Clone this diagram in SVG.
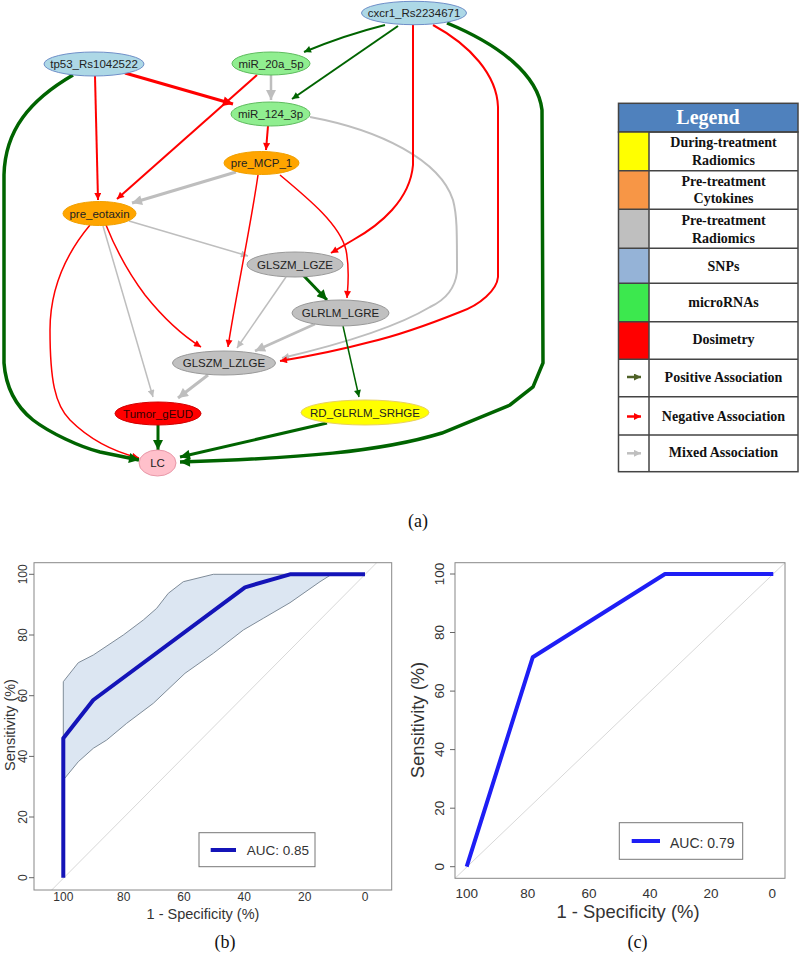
<svg xmlns="http://www.w3.org/2000/svg" width="800" height="957" viewBox="0 0 800 957">
<style>
.nt{font-family:"Liberation Sans",Arial,sans-serif;font-size:11.5px;fill:#222;text-anchor:middle}
.e{fill:none}
.g{stroke:#006400}
.r{stroke:#FF0000}
.y{stroke:#BEBEBE}
.lt{font-family:"Liberation Serif","Times New Roman",serif;font-weight:bold;font-size:14px;fill:#111;text-anchor:middle}
.cap{font-family:"Liberation Serif","Times New Roman",serif;font-size:18px;fill:#111;text-anchor:middle}
.ax{font-family:"Liberation Sans",Arial,sans-serif;fill:#333;text-anchor:middle}
.cell{fill:none;stroke:#444;stroke-width:1.5}
</style>
<defs>
<marker id="gS" viewBox="0 0 10 10" refX="10" refY="5" markerWidth="8" markerHeight="7" markerUnits="userSpaceOnUse" orient="auto"><path d="M0,0 L10,5 L0,10 z" fill="#006400"/></marker>
<marker id="gL" viewBox="0 0 10 10" refX="10" refY="5" markerWidth="11" markerHeight="10" markerUnits="userSpaceOnUse" orient="auto"><path d="M0,0 L10,5 L0,10 z" fill="#006400"/></marker>
<marker id="rS" viewBox="0 0 10 10" refX="10" refY="5" markerWidth="8" markerHeight="7" markerUnits="userSpaceOnUse" orient="auto"><path d="M0,0 L10,5 L0,10 z" fill="#FF0000"/></marker>
<marker id="rL" viewBox="0 0 10 10" refX="10" refY="5" markerWidth="11" markerHeight="10" markerUnits="userSpaceOnUse" orient="auto"><path d="M0,0 L10,5 L0,10 z" fill="#FF0000"/></marker>
<marker id="yS" viewBox="0 0 10 10" refX="10" refY="5" markerWidth="8" markerHeight="7" markerUnits="userSpaceOnUse" orient="auto"><path d="M0,0 L10,5 L0,10 z" fill="#BEBEBE"/></marker>
<marker id="yL" viewBox="0 0 10 10" refX="10" refY="5" markerWidth="11" markerHeight="10" markerUnits="userSpaceOnUse" orient="auto"><path d="M0,0 L10,5 L0,10 z" fill="#BEBEBE"/></marker>
<marker id="lp" viewBox="0 0 10 10" refX="10" refY="5" markerWidth="7" markerHeight="7" markerUnits="userSpaceOnUse" orient="auto"><path d="M0,0 L10,5 L0,10 z" fill="#4F6228"/></marker>
<marker id="lr" viewBox="0 0 10 10" refX="10" refY="5" markerWidth="7" markerHeight="7" markerUnits="userSpaceOnUse" orient="auto"><path d="M0,0 L10,5 L0,10 z" fill="#FF0000"/></marker>
<marker id="ly" viewBox="0 0 10 10" refX="10" refY="5" markerWidth="7" markerHeight="7" markerUnits="userSpaceOnUse" orient="auto"><path d="M0,0 L10,5 L0,10 z" fill="#BFBFBF"/></marker>
</defs>
<rect width="800" height="957" fill="#FFFFFF"/>

<g id="connectors">
<path class="e y" stroke-width="2.5" marker-end="url(#yL)" d="M271,75 L271,100"/>
<path class="e y" stroke-width="3" marker-end="url(#yL)" d="M236,172 L132,203"/>
<path class="e y" stroke-width="1.5" marker-end="url(#yS)" d="M129,221 L248,256"/>
<path class="e y" stroke-width="1.5" marker-end="url(#yS)" d="M103,226 L153,397"/>
<path class="e y" stroke-width="1.5" marker-end="url(#yS)" d="M286,277 L237,348"/>
<path class="e y" stroke-width="2.5" marker-end="url(#yL)" d="M315,324 L255,351"/>
<path class="e y" stroke-width="2" marker-end="url(#yS)" d="M310,117 C380,130 440,160 453,200 C457,215 457,230 457,272 C455,290 445,300 430,307 C400,325 350,342 282,358"/>
<path class="e y" stroke-width="3" marker-end="url(#yL)" d="M208,375 L178,398"/>

<path class="e r" stroke-width="3" marker-end="url(#rL)" d="M125,73 L233,104"/>
<path class="e r" stroke-width="2" marker-end="url(#rS)" d="M95,76 L98,200"/>
<path class="e r" stroke-width="2" marker-end="url(#rS)" d="M257,75 L117,199"/>
<path class="e r" stroke-width="2" marker-end="url(#rS)" d="M268,126 L266,150"/>
<path class="e r" stroke-width="2" marker-end="url(#rS)" d="M413,25 L413,165 C410,200 380,225 353,240 L331,253"/>
<path class="e r" stroke-width="2" marker-end="url(#rS)" d="M433,25 C470,45 497,75 498,107 L498,277 C497,290 480,305 460,312 C440,320 400,335 370,342 C340,350 310,356 280,361"/>
<path class="e r" stroke-width="1.5" marker-end="url(#rS)" d="M258,175 C250,230 235,300 228,347"/>
<path class="e r" stroke-width="1.5" marker-end="url(#rS)" d="M280,175 C310,200 340,225 346,250 C350,270 348,285 347,298"/>
<path class="e r" stroke-width="1.5" marker-end="url(#rS)" d="M106,225 C118,255 130,275 145,295 C165,320 185,337 201,347"/>
<path class="e r" stroke-width="1.5" marker-end="url(#rS)" d="M90,225 C65,255 50,290 50,330 C50,380 55,405 70,420 C90,440 115,452 139,458"/>

<path class="e g" stroke-width="2" marker-end="url(#gS)" d="M385,25 Q345,35 304,52"/>
<path class="e g" stroke-width="2" marker-end="url(#gS)" d="M398,26 L292,99"/>
<path class="e g" stroke-width="3.5" marker-end="url(#gL)" d="M447,23 C500,45 538,75 542,110 L543,363 L533,387 L510,405 L442,433 C380,452 300,458 180,462"/>
<path class="e g" stroke-width="3.5" marker-end="url(#gL)" d="M73,75 C30,100 5,130 4,175 L4,363 C6,390 18,408 33,420 C50,433 80,447 100,452 L139,460"/>
<path class="e g" stroke-width="3" marker-end="url(#gL)" d="M303,275 L327,300"/>
<path class="e g" stroke-width="1.5" marker-end="url(#gS)" d="M343,326 L359,397"/>
<path class="e g" stroke-width="3" marker-end="url(#gL)" d="M158,425 L158,450"/>
<path class="e g" stroke-width="3" marker-end="url(#gL)" d="M327,423 L180,457"/>
</g>

<g id="cxcr1_Rs2234671"><ellipse cx="414" cy="13" rx="52.5" ry="11.7" fill="#ADD8E6" stroke="#6F8FC8"/><text class="nt" x="414" y="17">cxcr1_Rs2234671</text></g>
<g id="tp53_Rs1042522"><ellipse cx="94" cy="64" rx="50" ry="12" fill="#ADD8E6" stroke="#6F8FC8"/><text class="nt" x="94" y="68">tp53_Rs1042522</text></g>
<g id="miR_20a_5p"><ellipse cx="271" cy="63.5" rx="39" ry="11.5" fill="#90EE90" stroke="#5DBB5D"/><text class="nt" x="271" y="67.5">miR_20a_5p</text></g>
<g id="miR_124_3p"><ellipse cx="270.5" cy="114" rx="39.5" ry="12" fill="#90EE90" stroke="#5DBB5D"/><text class="nt" x="270.5" y="118">miR_124_3p</text></g>
<g id="pre_MCP_1"><ellipse cx="261.5" cy="163" rx="37.5" ry="11.5" fill="#FFA500" stroke="#F0A000"/><text class="nt" x="261.5" y="167">pre_MCP_1</text></g>
<g id="pre_eotaxin"><ellipse cx="99.5" cy="213.5" rx="36.5" ry="12" fill="#FFA500" stroke="#F0A000"/><text class="nt" x="99.5" y="217.5">pre_eotaxin</text></g>
<g id="GLSZM_LGZE"><ellipse cx="295" cy="264.5" rx="48" ry="12.5" fill="#C0C0C0" stroke="#999999"/><text class="nt" x="295" y="268.5">GLSZM_LGZE</text></g>
<g id="GLRLM_LGRE"><ellipse cx="340.5" cy="313" rx="48.5" ry="13" fill="#C0C0C0" stroke="#999999"/><text class="nt" x="340.5" y="317">GLRLM_LGRE</text></g>
<g id="GLSZM_LZLGE"><ellipse cx="224" cy="363" rx="51.5" ry="12" fill="#C0C0C0" stroke="#999999"/><text class="nt" x="224" y="367">GLSZM_LZLGE</text></g>
<g id="Tumor_gEUD"><ellipse cx="158" cy="413.5" rx="43" ry="11.5" fill="#FF0000" stroke="#D00000"/><text class="nt" x="158" y="417.5" style="fill:#300">Tumor_gEUD</text></g>
<g id="RD_GLRLM_SRHGE"><ellipse cx="365" cy="412.5" rx="64" ry="12.5" fill="#FFFF00" stroke="#E8D060"/><text class="nt" x="365" y="416.5">RD_GLRLM_SRHGE</text></g>
<g id="LC"><ellipse cx="157.5" cy="463" rx="18.5" ry="13" fill="#FFC0CB" stroke="#E898A8"/><text class="nt" x="157.5" y="467">LC</text></g>

<g id="legend">
<rect x="618.5" y="103.3" width="179.5" height="28.7" fill="#4F81BD" stroke="#444" stroke-width="1.5"/>
<text x="708" y="124" style="font-family:'Liberation Serif','Times New Roman',serif;font-weight:bold;font-size:20px;fill:#FFFFFF;text-anchor:middle">Legend</text>
<rect x="618.5" y="132" width="30.5" height="38.7" fill="#FFFF00"/>
<rect x="618.5" y="170.7" width="30.5" height="38.6" fill="#F79646"/>
<rect x="618.5" y="209.3" width="30.5" height="39" fill="#BFBFBF"/>
<rect x="618.5" y="248.3" width="30.5" height="35" fill="#95B3D7"/>
<rect x="618.5" y="283.3" width="30.5" height="38.4" fill="#3CE84E"/>
<rect x="618.5" y="321.7" width="30.5" height="37.6" fill="#FF0000"/>
<rect class="cell" x="618.5" y="132" width="179.5" height="339.7"/>
<path class="cell" d="M649,132 V471.7 M618.5,170.7 H798 M618.5,209.3 H798 M618.5,248.3 H798 M618.5,283.3 H798 M618.5,321.7 H798 M618.5,359.3 H798 M618.5,396.7 H798 M618.5,435 H798"/>
<text class="lt" x="723.5" y="147">During-treatment</text>
<text class="lt" x="723.5" y="165">Radiomics</text>
<text class="lt" x="723.5" y="186">Pre-treatment</text>
<text class="lt" x="723.5" y="203">Cytokines</text>
<text class="lt" x="723.5" y="225">Pre-treatment</text>
<text class="lt" x="723.5" y="242.5">Radiomics</text>
<text class="lt" x="723.5" y="271">SNPs</text>
<text class="lt" x="723.5" y="307">microRNAs</text>
<text class="lt" x="723.5" y="344">Dosimetry</text>
<text class="lt" x="723.5" y="382">Positive Association</text>
<text class="lt" x="723.5" y="421">Negative Association</text>
<text class="lt" x="723.5" y="457">Mixed Association</text>
<path d="M627,377 L641,377" stroke="#4F6228" stroke-width="2.5" marker-end="url(#lp)"/>
<path d="M627,416.5 L641,416.5" stroke="#FF0000" stroke-width="2.5" marker-end="url(#lr)"/>
<path d="M627,453.3 L641,453.3" stroke="#BFBFBF" stroke-width="2.5" marker-end="url(#ly)"/>
</g>

<text class="cap" x="418" y="527">(a)</text>

<g id="plot_b">
<path d="M63.3,681.7 L78.3,662.7 L93.3,655 L123.3,635 L143.3,620 L156.7,608.3 L168.3,593.3 L183.3,581.7 L213.3,574.3 L331.7,574.3 L320,581.7 L290,602.7 L263.3,618.3 L243.3,630 L213.3,653.3 L185,673.3 L153.3,703.3 L126.7,723.3 L106.7,740 L93.3,748.3 L78.3,761.7 L63.3,780 Z" fill="#DCE6F2" stroke="#7F8C99" stroke-width="1"/>
<line x1="51.7" y1="890" x2="376.7" y2="562.7" stroke="#D8D8D8" stroke-width="1"/>
<rect x="34" y="562.7" width="357.7" height="327.3" fill="none" stroke="#888" stroke-width="1"/>
<path d="M63.3,877.7 L63.3,738.3 L93.3,700 L245,587.3 L290,574.3 L365,574.3" fill="none" stroke="#1414B8" stroke-width="4" stroke-linejoin="round"/>
<path d="M34,877.7 H29 M34,817 H29 M34,756.4 H29 M34,695.7 H29 M34,635 H29 M34,574.3 H29" stroke="#666" stroke-width="1"/>
<g class="ax" style="font-size:12px">
<text transform="translate(26.5,877.7) rotate(-90)">0</text>
<text transform="translate(26.5,817) rotate(-90)">20</text>
<text transform="translate(26.5,756.4) rotate(-90)">40</text>
<text transform="translate(26.5,695.7) rotate(-90)">60</text>
<text transform="translate(26.5,635) rotate(-90)">80</text>
<text transform="translate(26.5,574.3) rotate(-90)">100</text>
<text x="63.3" y="901">100</text>
<text x="123.7" y="901">80</text>
<text x="184" y="901">60</text>
<text x="244.3" y="901">40</text>
<text x="304.7" y="901">20</text>
<text x="365" y="901">0</text>
</g>
<text class="ax" x="203" y="918.5" style="font-size:14.5px">1 - Specificity (%)</text>
<text class="ax" transform="translate(14.5,725) rotate(-90)" style="font-size:14.5px">Sensitivity (%)</text>
<rect x="199" y="832.7" width="116" height="34" fill="#FFFFFF" stroke="#777" stroke-width="1"/>
<line x1="210.7" y1="850" x2="236" y2="850" stroke="#1414B8" stroke-width="4"/>
<text x="246.7" y="855" style="font-family:'Liberation Sans',Arial,sans-serif;font-size:13.5px;fill:#333">AUC: 0.85</text>
</g>
<text class="cap" x="225" y="948">(b)</text>

<g id="plot_c">
<line x1="455" y1="878.3" x2="785" y2="562.7" stroke="#D8D8D8" stroke-width="1"/>
<rect x="455" y="562.7" width="330" height="315.6" fill="none" stroke="#888" stroke-width="1"/>
<path d="M466.7,866.7 L532.7,657.3 L665,574 L773.3,574" fill="none" stroke="#1E1EF5" stroke-width="4" stroke-linejoin="round"/>
<path d="M455,866.7 H450 M455,808.2 H450 M455,749.6 H450 M455,691.1 H450 M455,632.5 H450 M455,574 H450" stroke="#666" stroke-width="1"/>
<g class="ax" style="font-size:13.5px">
<text transform="translate(443.5,866.7) rotate(-90)">0</text>
<text transform="translate(443.5,808.2) rotate(-90)">20</text>
<text transform="translate(443.5,749.6) rotate(-90)">40</text>
<text transform="translate(443.5,691.1) rotate(-90)">60</text>
<text transform="translate(443.5,632.5) rotate(-90)">80</text>
<text transform="translate(443.5,574) rotate(-90)">100</text>
<text x="466.7" y="898">100</text>
<text x="527.7" y="898">80</text>
<text x="589" y="898">60</text>
<text x="650" y="898">40</text>
<text x="711" y="898">20</text>
<text x="772.3" y="898">0</text>
</g>
<text class="ax" x="628" y="918" style="font-size:18.4px">1 - Specificity (%)</text>
<text class="ax" transform="translate(424,720) rotate(-90)" style="font-size:18.4px">Sensitivity (%)</text>
<rect x="619.3" y="822.7" width="123.4" height="36.6" fill="#FFFFFF" stroke="#777" stroke-width="1"/>
<line x1="631.7" y1="841" x2="660" y2="841" stroke="#1E1EF5" stroke-width="4"/>
<text x="670" y="847.5" style="font-family:'Liberation Sans',Arial,sans-serif;font-size:14px;fill:#333">AUC: 0.79</text>
</g>
<text class="cap" x="637.5" y="948">(c)</text>
</svg>
